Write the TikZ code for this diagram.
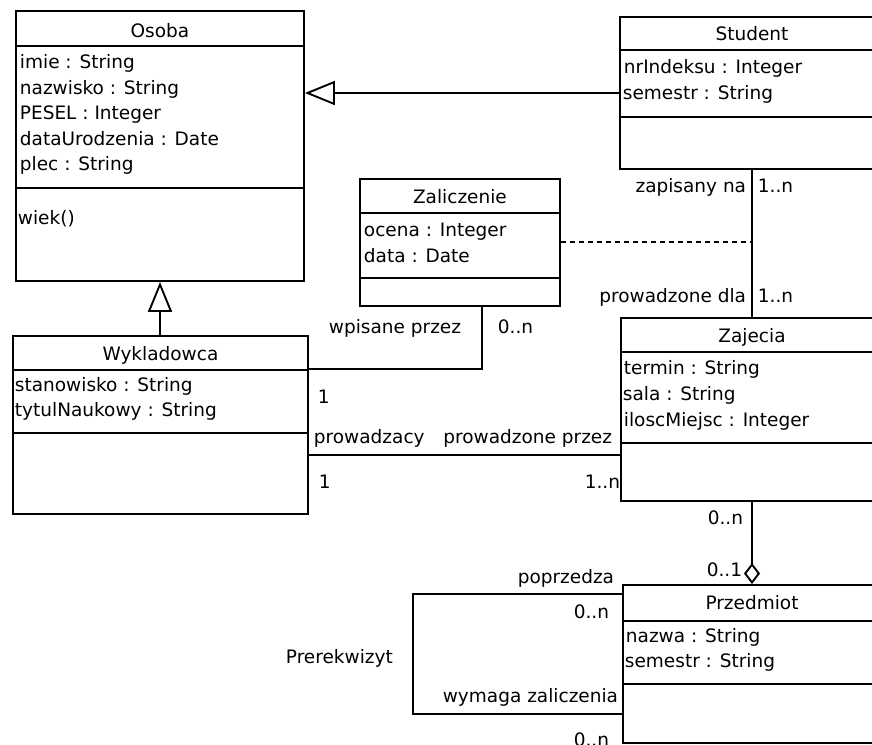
\documentclass[tikz,border=0pt]{standalone}
\usepackage{fontspec}
\setmainfont{DejaVu Sans}
\usetikzlibrary{arrows.meta}
\begin{document}
\begin{tikzpicture}[x=1pt,y=-1pt,line width=1.9pt,
  cls/.style={draw,rectangle,anchor=north west,inner sep=0pt},
  txt/.style={font=\fontsize{18.5}{22}\selectfont,inner sep=0pt,anchor=base west},
  ttl/.style={font=\fontsize{18.5}{22}\selectfont,inner sep=0pt,anchor=base},
  lblr/.style={font=\fontsize{18.5}{22}\selectfont,inner sep=0pt,anchor=base east},
  gen/.style={-{Triangle[open,length=30pt,width=24pt,fill=white]}},
  agg/.style={-{Diamond[open,length=21pt,width=16pt,fill=white]}},
  dsh/.style={dash pattern=on 5pt off 4pt}]
\useasboundingbox (0,0) rectangle (872,744);
\clip (0,0) rectangle (872,744);
\fill[white] (0,0) rectangle (872,744);

% Osoba
\node[cls,minimum width=288pt,minimum height=270pt] (osoba) at (15,10) {};
\draw (osoba.west |- 0,46) -- (osoba.east |- 0,46);
\draw (osoba.west |- 0,188) -- (osoba.east |- 0,188);
\node[ttl] (osobaT) at (osoba.north |- 0,37) {Osoba};
\node[txt] (osoba1) at (19,68) {imie : String};
\node[txt] (osoba2) at (19,94) {nazwisko : String};
\node[txt] (osoba3) at (19,119) {PESEL : Integer};
\node[txt] (osoba4) at (19,145) {dataUrodzenia : Date};
\node[txt] (osoba5) at (19,170) {plec : String};
\node[txt] (osoba6) at (17,224) {wiek()};

% Student
\node[cls,minimum width=266pt,minimum height=152pt] (student) at (619,16) {};
\draw (student.west |- 0,50) -- (student.east |- 0,50);
\draw (student.west |- 0,117) -- (student.east |- 0,117);
\node[ttl] (studentT) at (752,40) {Student};
\node[txt] (student1) at (623,73) {nrIndeksu : Integer};
\node[txt] (student2) at (622,99) {semestr : String};

% Zaliczenie
\node[cls,minimum width=200pt,minimum height=127pt] (zal) at (359,178) {};
\draw (zal.west |- 0,213) -- (zal.east |- 0,213);
\draw (zal.west |- 0,278) -- (zal.east |- 0,278);
\node[ttl] (zalT) at (zal.north |- 0,203) {Zaliczenie};
\node[txt] (zal1) at (363,236) {ocena : Integer};
\node[txt] (zal2) at (363,262) {data : Date};

% Wykladowca
\node[cls,minimum width=295pt,minimum height=178pt] (wyk) at (12,335) {};
\draw (wyk.west |- 0,370) -- (wyk.east |- 0,370);
\draw (wyk.west |- 0,433) -- (wyk.east |- 0,433);
\node[ttl] (wykT) at (wyk.north |- 0,360) {Wykladowca};
\node[txt] (wyk1) at (14,391) {stanowisko : String};
\node[txt] (wyk2) at (14,416) {tytulNaukowy : String};

% Zajecia
\node[cls,minimum width=264pt,minimum height=183pt] (zaj) at (620,317) {};
\draw (zaj.west |- 0,352) -- (zaj.east |- 0,352);
\draw (zaj.west |- 0,443) -- (zaj.east |- 0,443);
\node[ttl] (zajT) at (752,342) {Zajecia};
\node[txt] (zaj1) at (623,374) {termin : String};
\node[txt] (zaj2) at (622,400) {sala : String};
\node[txt] (zaj3) at (623,426) {iloscMiejsc : Integer};

% Przedmiot
\node[cls,minimum width=260pt,minimum height=158pt] (prz) at (622,584) {};
\draw (prz.west |- 0,621) -- (prz.east |- 0,621);
\draw (prz.west |- 0,684) -- (prz.east |- 0,684);
\node[ttl] (przT) at (752,609) {Przedmiot};
\node[txt] (prz1) at (625,642) {nazwa : String};
\node[txt] (prz2) at (624,667) {semestr : String};

% generalizations
\draw[gen] (student.west |- 0,93) -- (osoba.east |- 0,93);
\draw[gen] (wyk.north -| 160,0) -- (osoba.south -| 160,0);

% Student - Zajecia
\draw (student.south -| 752,0) -- (zaj.north -| 752,0);
\coordinate (assocmid) at (750,242);
\draw[dsh] (zal.east |- assocmid) -- (assocmid);
\node[lblr] (l1) at (747,192) {zapisany na};
\node[txt] (l2) at (757,192) {1..n};
\node[lblr] (l3) at (747,302) {prowadzone dla};
\node[txt] (l4) at (757,302) {1..n};

% Wykladowca - Zaliczenie
\draw (wyk.east |- 0,369) -- (482,369) -- (zal.south -| 482,0);
\node[txt] (l5) at (328,333) {wpisane przez};
\node[txt] (l6) at (497,333) {0..n};
\node[txt] (l7) at (317,403) {1};

% Wykladowca - Zajecia
\draw (wyk.east |- 0,455) -- (zaj.west |- 0,455);
\node[txt] (l8) at (313,443) {prowadzacy};
\node[lblr] (l9) at (613,443) {prowadzone przez};
\node[txt] (l10) at (318,488) {1};
\node[lblr] (l11) at (621,488) {1..n};

% Zajecia - Przedmiot aggregation
\draw[agg] (zaj.south -| 752,0) -- (prz.north -| 752,0);
\node[lblr] (l12) at (744,524) {0..n};
\node[lblr] (l13) at (743,576) {0..1};

% Prerekwizyt self association
\draw (prz.west |- 0,594) -- (413,594) -- (413,714) -- (prz.west |- 0,714);
\node[lblr] (l14) at (615,583) {poprzedza};
\node[lblr] (l15) at (610,618) {0..n};
\node[txt] (l16) at (285,663) {Prerekwizyt};
\node[lblr] (l17) at (619,702) {wymaga zaliczenia};
\node[lblr] (l18) at (610,746) {0..n};
\end{tikzpicture}
\end{document}
